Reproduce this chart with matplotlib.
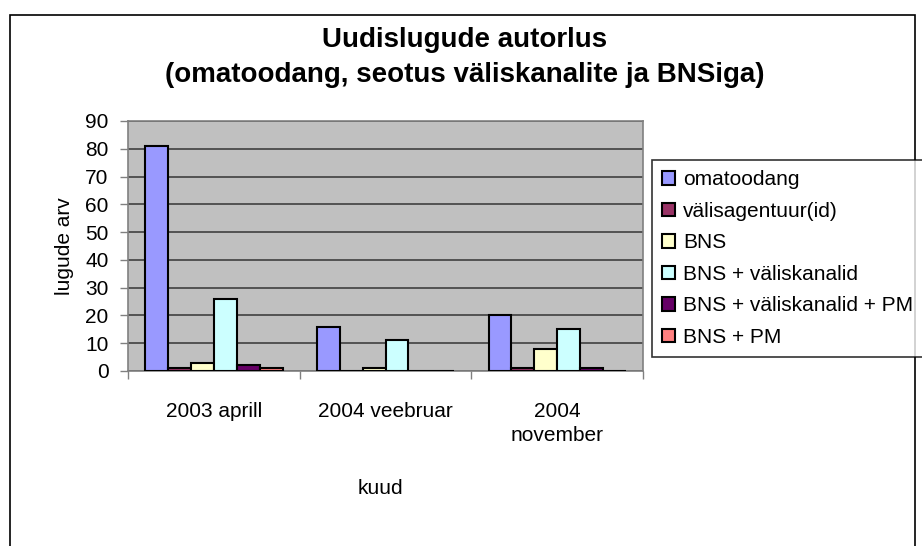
import matplotlib

matplotlib.use("Agg")
import matplotlib.pyplot as plt
import numpy as np
from matplotlib.patches import Rectangle

plt.rcParams["font.family"] = ["Liberation Sans", "DejaVu Sans"]

MONTHS = ["2003 aprill", "2004 veebruar", "2004\nnovember"]
SERIES = [
    "omatoodang",
    "välisagentuur(id)",
    "BNS",
    "BNS + väliskanalid",
    "BNS + väliskanalid + PM",
    "BNS + PM",
]
omatoodang = [81, 16, 20]
valisagentuur = [1, 0, 1]
bns = [3, 1, 8]
bns_valis = [26, 11, 15]
bns_valis_pm = [2, 0, 1]
bns_pm = [1, 0, 0]
VALUES = [omatoodang, valisagentuur, bns, bns_valis, bns_valis_pm, bns_pm]
COLORS = ["#9999FF", "#993366", "#FFFFCC", "#CCFFFF", "#660066", "#FF8080"]

W, H = 922, 546
fig = plt.figure(figsize=(W / 100, H / 100), dpi=100)
fig.patch.set_facecolor("white")

# outer chart frame
fig.patches.append(Rectangle((10 / W, -0.01), (915 - 10) / W, 1 - 15 / H + 0.01,
                             transform=fig.transFigure, fill=False,
                             edgecolor="black", linewidth=1.2))

ax = fig.add_axes([128 / W, 1 - 371 / H, (643 - 128) / W, (371 - 121) / H])
ax.set_facecolor("#C0C0C0")

x = np.arange(len(MONTHS))
w = 1 / 7.5
for i, (vals, col, name) in enumerate(zip(VALUES, COLORS, SERIES)):
    ax.bar(x + (i - 2.5) * w, vals, w, color=col, edgecolor="black",
           linewidth=1.5, label=name, zorder=3)

ax.set_xlim(-0.5, 2.5)
ax.set_ylim(0, 90)
ax.set_yticks(range(0, 91, 10))
ax.yaxis.grid(True, color="#404040", linewidth=1.2, zorder=0)
ax.set_xticks(x)
ax.set_xticklabels(MONTHS, fontsize=15, linespacing=1.35)
ax.set_xticks([-0.5, 0.5, 1.5, 2.5], minor=True)
ax.tick_params(axis="x", which="major", length=0, pad=22)
ax.tick_params(axis="x", which="minor", length=6, width=1, color="#808080")
ax.tick_params(axis="y", length=6, width=1, color="#808080", labelsize=15, pad=8)
for s in ax.spines.values():
    s.set_color("#808080")
    s.set_linewidth(1.2)

ax.set_ylabel("lugude arv", fontsize=15, labelpad=8)
fig.text(380 / W, 1 - 488 / H, "kuud", ha="center", va="center", fontsize=15)

fig.text(465 / W, 1 - 40 / H, "Uudislugude autorlus", ha="center", va="center",
         fontsize=20, fontweight="bold")
fig.text(465 / W, 1 - 75 / H, "(omatoodang, seotus väliskanalite ja BNSiga)",
         ha="center", va="center", fontsize=20, fontweight="bold")

leg = fig.legend(loc="upper left", bbox_to_anchor=(652 / W, 1 - 160 / H),
                 fontsize=15, frameon=True, fancybox=False, edgecolor="black",
                 handlelength=0.6, handleheight=0.6, handletextpad=0.4,
                 labelspacing=0.6, borderpad=0.5, borderaxespad=0)
leg.get_frame().set_linewidth(1.2)

fig.savefig("out.png", dpi=100, facecolor="white")
